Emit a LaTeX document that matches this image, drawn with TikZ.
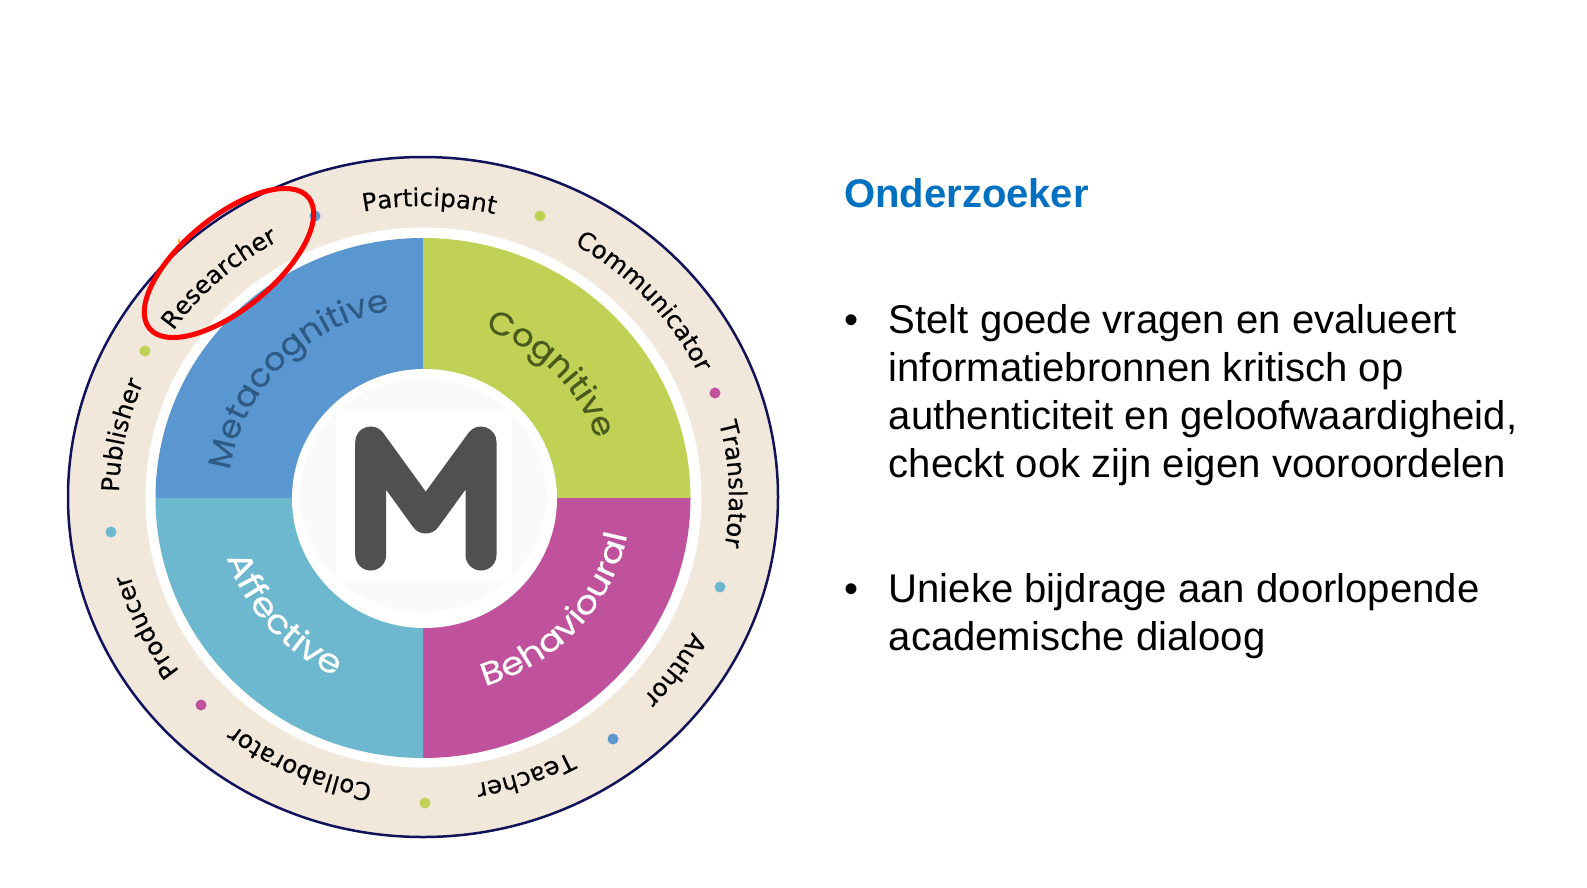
\documentclass[tikz,border=0pt]{standalone}
\usepackage{fontspec}
\usetikzlibrary{decorations.text}
\setmainfont{Liberation Sans}
\newfontfamily\ringfont[FakeBold=0.2]{DejaVu Sans}
\newfontfamily\wedgefont[FakeStretch=1.06,FakeBold=0.3]{Poppins}
\newfontfamily\widewedgefont[FakeStretch=1.15,FakeBold=0.3]{Poppins}
\definecolor{sand}{HTML}{F1E7DA}
\definecolor{navyline}{HTML}{10135A}
\definecolor{qblue}{HTML}{5A97D0}
\definecolor{qgreen}{HTML}{C1D155}
\definecolor{qmagenta}{HTML}{C0519C}
\definecolor{qcyan}{HTML}{6DB8CE}
\definecolor{titleblue}{HTML}{0070C0}
\definecolor{mgrey}{HTML}{505050}
\definecolor{faint}{HTML}{FAFAFA}
\definecolor{metatext}{HTML}{2E5A86}
\definecolor{cogtext}{HTML}{4A5A1C}
% #1 centre angle, #2 half span (sign gives direction), #3 rx, #4 ry, #5 font and colour, #6 text
\newcommand\arctext[6]{%
  \pgfmathsetmacro\tstart{#1+#2}\pgfmathsetmacro\tend{#1-#2}%
  \path[postaction={decorate,decoration={text along path,text align={align=center},text={|#5|#6}}}]
    ([shift={(\tstart:#3 and #4)}]c) arc[start angle=\tstart,end angle=\tend,x radius=#3,y radius=#4];}
\newcommand\ringfnt{\ringfont\fontsize{24.5}{28}\selectfont}
\newcommand\wedgefnt[1]{\wedgefont\fontsize{#1}{38}\selectfont}
\newcommand\widefnt[1]{\widewedgefont\fontsize{#1}{38}\selectfont}
\tikzset{
  x=1pt,y=1pt,
  ring dot/.style={circle,inner sep=0pt,minimum size=11pt,fill=#1},
  bullet text/.style={anchor=base west,inner sep=0pt,font=\fontsize{40.1}{48}\selectfont,text=black},
  quadrant/.style={fill=#1,draw=none}
}
\begin{document}
\begin{tikzpicture}
\useasboundingbox (0,0) rectangle (1587,-887);
\fill[white] (0,0) rectangle (1587,-887);
\coordinate (c) at (423,-497);
\coordinate (q) at (423,-498);
% outer ring
\draw[fill=sand,draw=navyline,line width=2.5pt] (c) ellipse [x radius=355,y radius=340];
\fill[white] (423.5,-497.5) ellipse [x radius=278,y radius=270];
% quadrants
\fill[quadrant=qblue] (q) -- ++(-267.5,0) arc[start angle=180,end angle=90,x radius=267.5,y radius=260] -- cycle;
\fill[quadrant=qgreen] (q) -- ++(0,260) arc[start angle=90,end angle=0,x radius=267.5,y radius=260] -- cycle;
\fill[quadrant=qmagenta] (q) -- ++(267.5,0) arc[start angle=0,end angle=-90,x radius=267.5,y radius=260] -- cycle;
\fill[quadrant=qcyan] (q) -- ++(0,-260) arc[start angle=-90,end angle=-180,x radius=267.5,y radius=260] -- cycle;
% centre
\fill[white] (424.5,-498.5) ellipse [x radius=132.5,y radius=129.5];
\fill[faint] (423.5,-495.5) ellipse [x radius=123,y radius=116.5];
\fill[white] (336,-410) rectangle (512,-582);
\draw[mgrey,line width=31pt,line cap=round,line join=round]
  (370.7,-555) -- (370.7,-442) -- (425.7,-518) -- (481,-442) -- (481,-555);
% ring dots
\node[ring dot=qblue] (d1) at (315,-216) {};
\node[ring dot=qgreen] (d2) at (540,-216) {};
\node[ring dot=qmagenta] (d3) at (715,-393) {};
\node[ring dot=qcyan] (d4) at (720,-587) {};
\node[ring dot=qblue] (d5) at (613,-739) {};
\node[ring dot=qgreen] (d6) at (425,-803) {};
\node[ring dot=qmagenta] (d7) at (201,-705) {};
\node[ring dot=qcyan] (d8) at (111,-532) {};
\node[ring dot=qgreen] (d9) at (145,-351) {};
% ring labels
\arctext{88.8}{30}{304}{291}{\ringfnt}{Participant}
\arctext{42.5}{30}{304}{291}{\ringfnt}{Communicator}
\arctext{2.5}{25}{306}{291}{\ringfnt}{Translator}
\arctext{-35.5}{20}{304}{291}{\ringfnt}{Author}
\arctext{-70.5}{20}{304}{291}{\ringfnt}{Teacher}
\arctext{-114}{25}{304}{291}{\ringfnt}{Collaborator}
\arctext{-154}{20}{304}{291}{\ringfnt}{Producer}
\arctext{168}{20}{304}{291}{\ringfnt}{Publisher}
\arctext{132}{25}{304}{291}{\ringfnt}{Researcher}
% quadrant labels
\arctext{136}{45}{195}{189}{\wedgefnt{32}\color{metatext}}{Metacognitive}
\arctext{44.5}{35}{183}{178}{\wedgefnt{32}\color{cogtext}}{Cognitive}
\arctext{-41.5}{-45}{208}{198}{\widefnt{32}\color{white}}{Behavioural}
\arctext{-139}{-40}{206}{198}{\widefnt{33}\color{white}}{Affective}
% red highlight
\draw[red,line width=5pt,rotate around={39.5:(229,-263)}] (229,-263) ellipse [x radius=103,y radius=46];
\fill[orange!70!yellow] (179,-241) ellipse [x radius=0.8,y radius=3];
% right text
\node[anchor=base west,inner sep=0pt,font=\fontsize{40}{48}\selectfont\bfseries,text=titleblue] (title) at (844,-207.5) {Onderzoeker};
\node[bullet text] (b1) at (844,-333) {•};
\node[bullet text] (l1) at (888.5,-333) {Stelt goede vragen en evalueert};
\node[bullet text] (l2) at (888.5,-381) {informatiebronnen kritisch op};
\node[bullet text] (l3) at (888.5,-429) {authenticiteit en geloofwaardigheid,};
\node[bullet text] (l4) at (888.5,-477) {checkt ook zijn eigen vooroordelen};
\node[bullet text] (b2) at (844,-602) {•};
\node[bullet text] (l5) at (888.5,-602) {Unieke bijdrage aan doorlopende};
\node[bullet text] (l6) at (888.5,-650) {academische dialoog};
\end{tikzpicture}
\end{document}
